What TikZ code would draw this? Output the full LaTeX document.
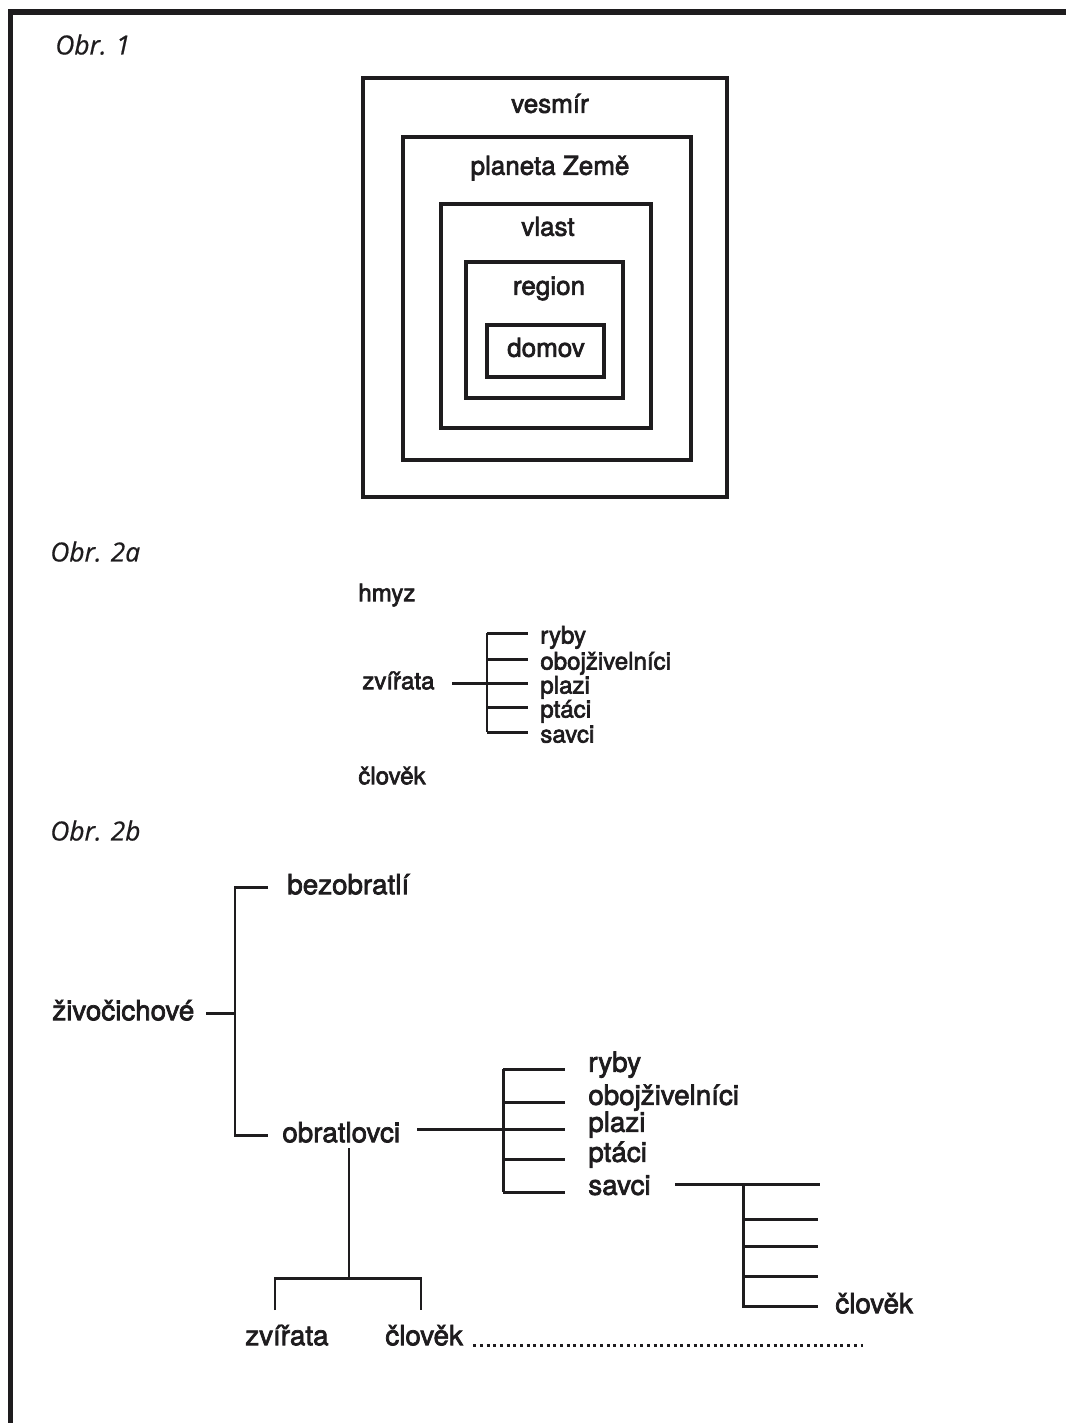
\documentclass[tikz,border=0pt]{standalone}
\usepackage{fontspec}
\setmainfont{TeX Gyre Heros}[BoldFont=TeX Gyre Heros, BoldFeatures={FakeBold=2.6}]
\newfontfamily\obrfont{Open Sans}[FakeBold=0.6]
\usetikzlibrary{positioning, fit}
\definecolor{ink}{RGB}{30, 28, 30}

\begin{document}
\begin{tikzpicture}[
    x=0.02cm, y=-0.02cm,
    nest/.style={rectangle, draw=ink, line width=1.9pt, inner sep=0pt},
    boxlbl/.style={inner sep=0pt, text height=7.7pt, text depth=0pt, text=ink, font=\bfseries\fontsize{14.8pt}{16pt}\selectfont},
    obr/.style={anchor=west, inner sep=0pt, text height=10.8pt, text depth=0pt, text=ink, font=\obrfont\itshape\fontsize{15pt}{17pt}\selectfont},
    worda/.style={anchor=west, inner sep=0pt, text height=7.1pt, text depth=0pt, text=ink, font=\bfseries\fontsize{13.7pt}{15pt}\selectfont},
    leafa/.style={worda, text height=12pt},
    wordb/.style={anchor=west, inner sep=0pt, text height=8.2pt, text depth=0pt, text=ink, font=\bfseries\fontsize{15.8pt}{17pt}\selectfont},
    leafb/.style={wordb, text height=3.2pt},
    tree/.style={draw=ink, line width=1.7pt},
    dots/.style={draw=ink, line width=1.7pt, dash pattern=on 1.7pt off 2.1pt}
]
    \useasboundingbox (0,0) rectangle (1065,1423);
    \draw[ink, line width=3.4pt] (10.5,1440) -- (10.5,12) -- (1080,12);

    % Obr. 1
    \node[obr] (obr1) at (55,45) {Obr. 1};
    \node[nest, fit={(363,78) (727,497)}] (vesmirbox) {};
    \node[nest, fit={(403,137) (691,460)}] (zemebox) {};
    \node[nest, fit={(441,204) (651,428)}] (vlastbox) {};
    \node[nest, fit={(466,262) (623,398)}] (regionbox) {};
    \node[nest, fit={(487,325) (604,377)}] (domovbox) {};
    \node[boxlbl] (vesmir) at (550,106) {vesmír};
    \node[boxlbl] (zeme) at (550,168) {planeta Země};
    \node[boxlbl] (vlast) at (548,229) {vlast};
    \node[boxlbl] (region) at (549,288) {region};
    \node[boxlbl] (domov) at (546,350) {domov};

    % Obr. 2a
    \node[obr] (obr2a) at (50,552) {Obr. 2a};
    \node[worda] (hmyz) at (358,595) {hmyz};
    \node[worda] (zvia) at (362,683) {zvířata};
    \node[worda] (cloa) at (358,778) {člověk};
    \node[leafa] (ryba) at (540,633) {ryby};
    \node[leafa] (oboa) at (540,659) {obojživelníci};
    \node[leafa] (plaa) at (540,683) {plazi};
    \node[leafa] (ptaa) at (540,707) {ptáci};
    \node[leafa] (sava) at (540,732) {savci};

    \coordinate (zvistem) at (452,683);
    \coordinate (busa) at (487,683);
    \draw[tree] (zvistem) -- (busa);
    \draw[tree] (busa |- ryba.west) -- (busa |- sava.west);
    \foreach \n in {ryba,oboa,plaa,ptaa,sava}
        \draw[tree] (busa |- \n.west) -- ([xshift=-0.24cm]\n.west);

    % Obr. 2b
    \node[obr] (obr2b) at (50,831) {Obr. 2b};
    \node[wordb] (ziv) at (52,1013) {živočichové};
    \node[wordb] (bez) at (287,887) {bezobratlí};
    \node[wordb] (obrat) at (282,1135) {obratlovci};
    \node[leafb] (rybb) at (588,1069) {ryby};
    \node[leafb] (obob) at (588,1102) {obojživelníci};
    \node[leafb] (plab) at (588,1129) {plazi};
    \node[leafb] (ptab) at (588,1159) {ptáci};
    \node[leafb] (savb) at (588,1192) {savci};
    \node[wordb] (cloc) at (835,1306) {člověk};
    \node[wordb] (zvib) at (245,1338) {zvířata};
    \node[wordb] (clob) at (385,1338) {člověk};

    \coordinate (zivstem) at (206,1013);
    \coordinate (busb) at (235,1013);
    \draw[tree] (zivstem) -- (busb);
    \draw[tree] ([xshift=-0.38cm]bez.west) -| (busb |- obrat.west) -- ([xshift=-0.28cm]obrat.west);

    \coordinate (obrstem) at (417,1129);
    \coordinate (busc) at (503,1129);
    \draw[tree] (obrstem) -- (busc);
    \draw[tree] (busc |- rybb.west) -- (busc |- savb.west);
    \foreach \n in {rybb,obob,plab,ptab,savb}
        \draw[tree] (busc |- \n.west) -- ([xshift=-0.46cm]\n.west);

    \coordinate (savstem) at (675,1184);
    \coordinate (busd) at (743,1184);
    \coordinate (twig1) at (820,1184);
    \coordinate (twig2) at (818,1219);
    \coordinate (twig3) at (818,1246);
    \coordinate (twig4) at (818,1276);
    \draw[tree] (savstem) -- (twig1);
    \draw[tree] (busd) -- (busd |- cloc.west) -- ([xshift=-0.34cm]cloc.west);
    \foreach \t in {twig2,twig3,twig4}
        \draw[tree] (busd |- \t) -- (\t);

    \coordinate (obrdown) at (349,1148);
    \coordinate (obrfork) at (349,1278);
    \coordinate (dropl) at (275,1310);
    \coordinate (dropr) at (421,1310);
    \draw[tree] (obrdown) -- (obrfork);
    \draw[tree] (dropl) |- (obrfork) -| (dropr);

    \coordinate (dotend) at (867,0);
    \draw[dots] ([xshift=0.2cm]clob.base east) -- (clob.base east -| dotend);
\end{tikzpicture}
\end{document}
